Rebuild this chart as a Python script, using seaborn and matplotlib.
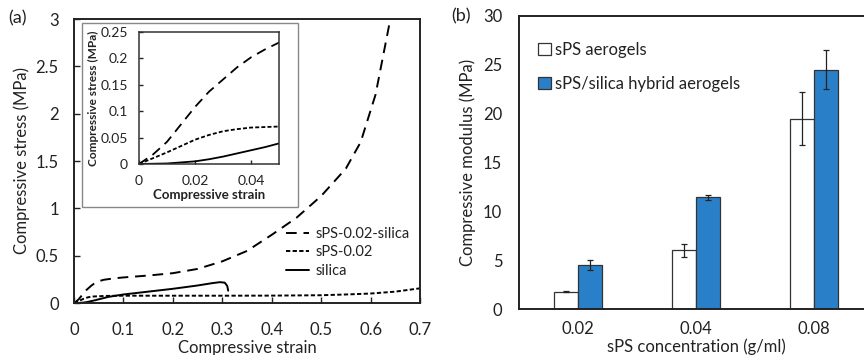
import numpy as np
import pandas as pd
import seaborn as sns
import matplotlib.pyplot as plt
from matplotlib.patches import Rectangle
from matplotlib.ticker import FuncFormatter

# (a) stress-strain curves
hybrid_strain = [0, 0.005, 0.01, 0.015, 0.02, 0.025, 0.03, 0.035, 0.04, 0.045, 0.05, 0.06, 0.08, 0.1,
                 0.15, 0.2, 0.25, 0.3, 0.35, 0.4, 0.45, 0.5, 0.55, 0.58, 0.61, 0.625, 0.64]
hybrid_stress = [0, 0.018, 0.042, 0.075, 0.108, 0.137, 0.16, 0.183, 0.202, 0.217, 0.23, 0.245, 0.26, 0.27,
                 0.29, 0.315, 0.36, 0.44, 0.55, 0.72, 0.9, 1.13, 1.42, 1.7, 2.2, 2.6, 3.0]
sps_strain = [0, 0.005, 0.01, 0.015, 0.02, 0.025, 0.03, 0.035, 0.04, 0.045, 0.05, 0.06, 0.08, 0.1,
              0.2, 0.3, 0.4, 0.5, 0.55, 0.6, 0.65, 0.7]
sps_stress = [0, 0.011, 0.022, 0.034, 0.046, 0.055, 0.062, 0.066, 0.069, 0.07, 0.071, 0.074, 0.076, 0.077,
              0.077, 0.077, 0.078, 0.082, 0.09, 0.1, 0.12, 0.155]
silica_strain = [0, 0.005, 0.01, 0.015, 0.02, 0.025, 0.03, 0.035, 0.04, 0.045, 0.05, 0.07, 0.1, 0.15,
                 0.2, 0.25, 0.28, 0.295, 0.305, 0.31, 0.312]
silica_stress = [0, 0.0005, 0.001, 0.003, 0.005, 0.009, 0.014, 0.02, 0.026, 0.032, 0.039, 0.065, 0.09, 0.12,
                 0.15, 0.185, 0.21, 0.22, 0.215, 0.18, 0.13]
curve_names = ["sPS-0.02-silica", "sPS-0.02", "silica"]

# (b) modulus bars
concentrations = ["0.02", "0.04", "0.08"]
aerogel_modulus = [1.75, 6.0, 19.5]
aerogel_err = [0.05, 0.7, 2.75]
hybrid_modulus = [4.5, 11.45, 24.5]
hybrid_err = [0.55, 0.25, 2.0]
bar_names = ["sPS aerogels", "sPS/silica hybrid aerogels"]

curves = pd.concat([
    pd.DataFrame({"strain": hybrid_strain, "stress": hybrid_stress, "sample": curve_names[0]}),
    pd.DataFrame({"strain": sps_strain, "stress": sps_stress, "sample": curve_names[1]}),
    pd.DataFrame({"strain": silica_strain, "stress": silica_stress, "sample": curve_names[2]}),
])
bars = pd.DataFrame({
    "conc": concentrations * 2,
    "modulus": aerogel_modulus + hybrid_modulus,
    "err": aerogel_err + hybrid_err,
    "type": [bar_names[0]] * 3 + [bar_names[1]] * 3,
})

sns.set_theme(style="ticks")
plt.rcParams["font.family"] = ["Lato", "DejaVu Sans"]
plt.rcParams["text.color"] = "#222222"
plt.rcParams["axes.labelcolor"] = "#222222"
plt.rcParams["xtick.color"] = "#222222"
plt.rcParams["ytick.color"] = "#222222"

fig = plt.figure(figsize=(8.64, 3.55), dpi=100)
dashes = {curve_names[0]: (5.5, 3.5), curve_names[1]: (2.2, 1.2), curve_names[2]: ""}
fmt = FuncFormatter(lambda v, p: f"{v:g}")

# ---- panel (a)
ax = fig.add_axes([74 / 864, 52 / 355, 346 / 864, 284 / 355])
sns.lineplot(curves, x="strain", y="stress", style="sample", style_order=curve_names,
             dashes=dashes, color="black", linewidth=1.4, estimator=None, sort=False, ax=ax)
ax.set_xlim(0, 0.7)
ax.set_ylim(0, 3)
ax.set_xticks(np.arange(0, 0.71, 0.1))
ax.set_yticks(np.arange(0, 3.01, 0.5))
ax.xaxis.set_major_formatter(fmt)
ax.yaxis.set_major_formatter(fmt)
ax.tick_params(direction="in", length=4, width=1, labelsize=12)
ax.tick_params(axis="x", pad=14)
ax.tick_params(axis="y", pad=11)
ax.set_xlabel("Compressive strain", fontsize=12, labelpad=1)
ax.set_ylabel("Compressive stress (MPa)", fontsize=12, labelpad=4)
for s in ax.spines.values():
    s.set_linewidth(1.4)
    s.set_color("#222222")
ax.legend(loc="upper left", bbox_to_anchor=(286 / 864, 1 - 227 / 355), bbox_transform=fig.transFigure,
          frameon=False, fontsize=10.5, handlelength=1.6, handletextpad=0.4, labelspacing=0.3,
          borderpad=0, borderaxespad=0)

# inset frame and inset
ax.add_patch(Rectangle((82 / 864, 1 - 207 / 355), 216 / 864, 184 / 355, transform=fig.transFigure,
                       facecolor="white", edgecolor="#888888", linewidth=1.0, clip_on=False, zorder=5))
axin = fig.add_axes([139 / 864, 1 - 164 / 355, 140 / 864, 132 / 355])
sns.lineplot(curves, x="strain", y="stress", style="sample", style_order=curve_names,
             dashes=dashes, color="black", linewidth=1.3, estimator=None, sort=False,
             legend=False, ax=axin)
axin.set_xlim(0, 0.05)
axin.set_ylim(0, 0.25)
axin.set_xticks([0, 0.02, 0.04])
axin.set_yticks(np.arange(0, 0.251, 0.05))
axin.xaxis.set_major_formatter(fmt)
axin.yaxis.set_major_formatter(fmt)
axin.tick_params(direction="in", length=3, width=1, pad=8, labelsize=10)
axin.set_xlabel("Compressive strain", fontsize=9.5, fontweight="bold", labelpad=1)
axin.set_ylabel("Compressive stress (MPa)", fontsize=8.5, fontweight="bold", labelpad=1)
for s in axin.spines.values():
    s.set_linewidth(1.1)
    s.set_color("#333333")

# ---- panel (b)
bx = fig.add_axes([519 / 864, 46 / 355, 354 / 864, 293 / 355])
palette = {bar_names[0]: "white", bar_names[1]: "#2a80c8"}
sns.barplot(bars, x="conc", y="modulus", hue="type", hue_order=bar_names, order=concentrations,
            palette=palette, width=0.4, edgecolor="#333333", linewidth=0.9, errorbar=None,
            saturation=1, ax=bx)
for cont, name in zip(bx.containers, bar_names):
    sub = bars[bars["type"] == name].set_index("conc").loc[concentrations]
    xs = [b.get_x() + b.get_width() / 2 for b in cont]
    bx.errorbar(xs, sub["modulus"], yerr=sub["err"], fmt="none", ecolor="#222222",
                elinewidth=0.9, capsize=2, capthick=0.9)
bx.set_xlim(-0.5, 2.5)
bx.set_ylim(0, 30)
bx.set_yticks(np.arange(0, 31, 5))
bx.tick_params(length=0, labelsize=12)
bx.tick_params(axis="y", pad=12)
bx.tick_params(axis="x", pad=9)
bx.set_xlabel("sPS concentration (g/ml)", fontsize=12, labelpad=1)
bx.set_ylabel("Compressive modulus (MPa)", fontsize=12, labelpad=5)
for s in bx.spines.values():
    s.set_linewidth(1.4)
    s.set_color("#222222")
handles, labels = bx.get_legend_handles_labels()
bx.legend(handles, labels, loc="upper left", bbox_to_anchor=(538 / 864, 1 - 42 / 355),
          bbox_transform=fig.transFigure, frameon=False, fontsize=12, handlelength=0.75,
          handleheight=0.75, handletextpad=0.25, labelspacing=1.05, borderpad=0, borderaxespad=0)

fig.text(8 / 864, 1 - 18 / 355, "(a)", fontsize=13, va="center", ha="left")
fig.text(451 / 864, 1 - 16 / 355, "(b)", fontsize=13, va="center", ha="left")

fig.savefig("out.png", dpi=100)
